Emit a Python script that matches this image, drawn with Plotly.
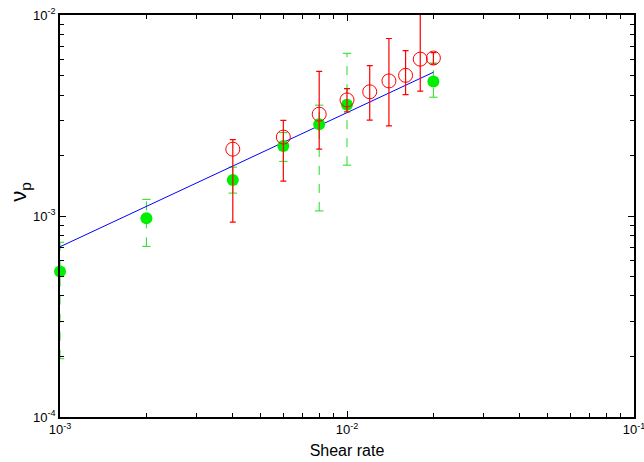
import plotly.graph_objects as go

# Filled green series
green_x = [1e-3, 2e-3, 4e-3, 6e-3, 8e-3, 1e-2, 2e-2]
green_y = [5.3e-4, 9.75e-4, 1.51e-3, 2.23e-3, 2.86e-3, 3.58e-3, 4.67e-3]
green_lo = [1.95e-4, 7.06e-4, 1.30e-3, 1.87e-3, 1.06e-3, 1.79e-3, 3.9e-3]
green_hi = [7.4e-4, 1.21e-3, 1.75e-3, 2.6e-3, 3.56e-3, 6.45e-3, 5.77e-3]

# Open red series
red_x = [4e-3, 6e-3, 8e-3, 1e-2, 1.2e-2, 1.4e-2, 1.6e-2, 1.8e-2, 2e-2]
red_y = [2.15e-3, 2.47e-3, 3.21e-3, 3.78e-3, 4.15e-3, 4.70e-3, 5.01e-3, 6.03e-3, 6.11e-3]
red_lo = [9.33e-4, 1.49e-3, 2.15e-3, 3.3e-3, 3.00e-3, 2.81e-3, 4.02e-3, 4.18e-3, 5.7e-3]
red_hi = [2.40e-3, 2.99e-3, 5.24e-3, 4.30e-3, 5.60e-3, 7.64e-3, 6.65e-3, 1.3e-2, 6.5e-3]

# Power-law fit line
fit_x = [1e-3, 2e-2]
fit_y = [7.03e-4, 5.19e-3]

x_tickvals = [1e-3, 1e-2, 1e-1]
x_ticktext = ["10<sup>-3</sup>", "10<sup>-2</sup>", "10<sup>-1</sup>"]
y_tickvals = [1e-4, 1e-3, 1e-2]
y_ticktext = ["10<sup>-4</sup>", "10<sup>-3</sup>", "10<sup>-2</sup>"]

fig = go.Figure()

# green dashed error bars built from the data
ex, ey, cx, cy = [], [], [], []
for x, lo, hi in zip(green_x, green_lo, green_hi):
    ex += [x, x, None]
    ey += [lo, hi, None]
    cx += [x, x]
    cy += [lo, hi]
fig.add_trace(go.Scatter(x=ex, y=ey, mode="lines",
                         line=dict(color="#22dd22", width=1, dash="dash"),
                         hoverinfo="skip", showlegend=False))
fig.add_trace(go.Scatter(x=cx, y=cy, mode="markers",
                         marker=dict(symbol="line-ew", size=6, color="#22dd22",
                                     line=dict(color="#22dd22", width=1)),
                         hoverinfo="skip", showlegend=False))

fig.add_trace(go.Scatter(x=fit_x, y=fit_y, mode="lines",
                         line=dict(color="#0000ff", width=1), showlegend=False))

fig.add_trace(go.Scatter(x=green_x, y=green_y, mode="markers",
                         marker=dict(symbol="circle", size=12, color="#00ee00",
                                     line=dict(width=0)),
                         showlegend=False, cliponaxis=False))

fig.add_trace(go.Scatter(
    x=red_x, y=red_y, mode="markers",
    marker=dict(symbol="circle-open", size=14, color="#ff0000",
                line=dict(width=1, color="#ff0000")),
    error_y=dict(type="data", symmetric=False,
                 array=[h - v for h, v in zip(red_hi, red_y)],
                 arrayminus=[v - l for v, l in zip(red_y, red_lo)],
                 color="#ff0000", thickness=1.2, width=3),
    showlegend=False))

axis_common = dict(
    type="log", showline=True, linecolor="black", linewidth=1.5,
    mirror="ticks", ticks="inside", ticklen=6, tickwidth=1, tickcolor="black",
    showgrid=False, zeroline=False, automargin=False, ticklabeloverflow="allow",
    tickfont=dict(family="Liberation Sans, Arial", size=13, color="black"),
    minor=dict(ticks="inside", ticklen=4, dtick="D1", tickcolor="black",
               tickwidth=1, showgrid=False),
)

fig.update_layout(
    width=644, height=462,
    margin=dict(l=60, r=10, t=15, b=45),
    plot_bgcolor="white", paper_bgcolor="white",
    xaxis=dict(**axis_common, range=[-3.0001, -0.9999], tickmode="array",
               tickvals=x_tickvals, ticktext=x_ticktext,
               title=dict(text="Shear rate", standoff=8,
                          font=dict(family="Liberation Sans, Arial", size=16, color="black"))),
    yaxis=dict(**axis_common, range=[-4.0001, -1.9999], tickmode="array",
               tickvals=y_tickvals, ticktext=y_ticktext),
    annotations=[dict(text="ν<sub>p</sub>", textangle=-90, showarrow=False,
                      xref="paper", yref="paper", x=-0.07, y=0.56,
                      xanchor="center", yanchor="middle",
                      font=dict(family="Liberation Sans, Arial", size=22, color="black"))],
)

fig.write_html("out.html", config={"displayModeBar": False},
               post_script="document.body.style.margin='0';document.body.style.overflow='hidden';")
